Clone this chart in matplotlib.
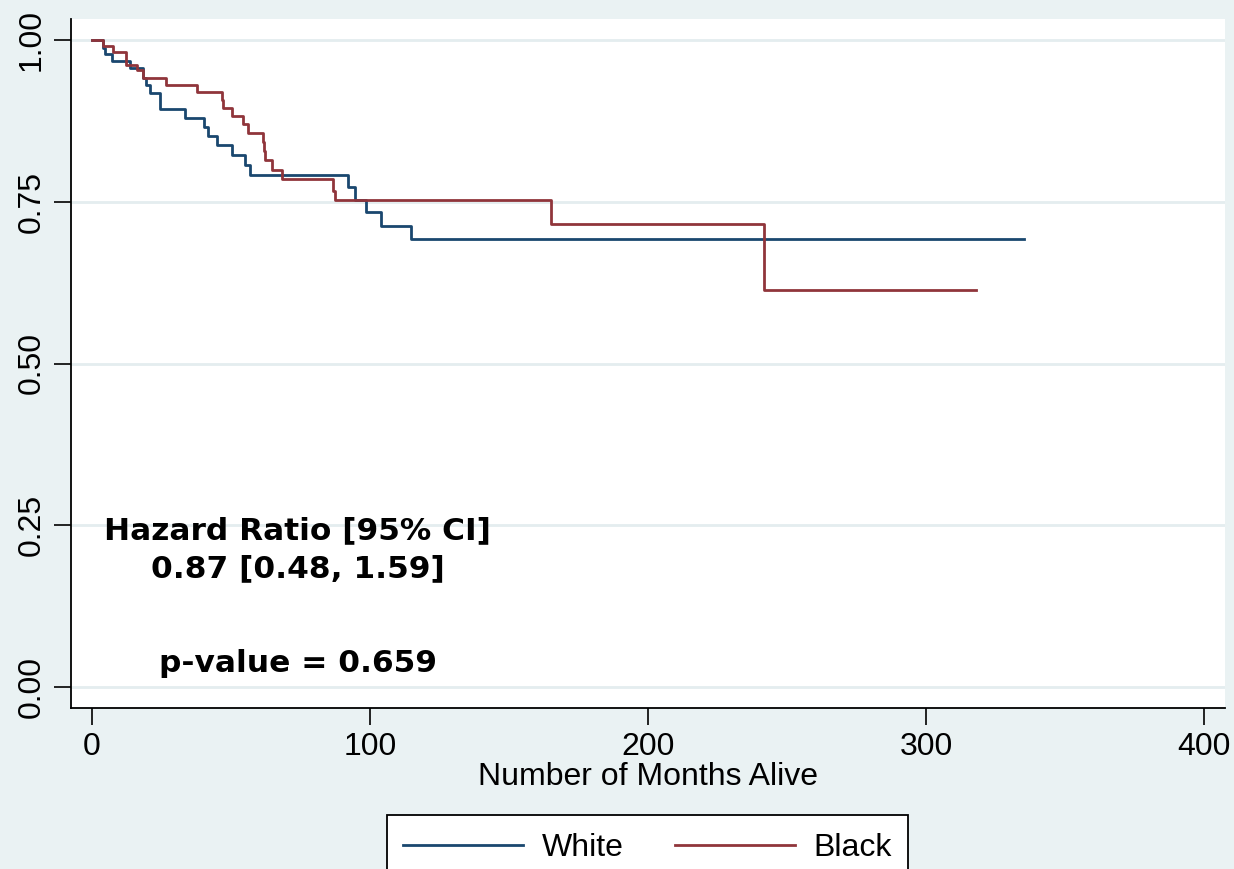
import matplotlib
matplotlib.use("Agg")
import matplotlib.pyplot as plt
from matplotlib.lines import Line2D
from matplotlib.patches import Rectangle

# Kaplan-Meier step data (months, survival probability)
white_time = [0, 4.1, 4.7, 7.1, 13.7, 18.4, 19.6, 20.8, 24.4, 33.4, 40.4, 41.8, 44.8,
              50.2, 55.2, 56.8, 92.1, 94.5, 98.7, 104.1, 114.9, 335.3]
white_surv = [1.0, 0.987, 0.978, 0.967, 0.956, 0.941, 0.931, 0.918, 0.893, 0.879, 0.866,
              0.851, 0.838, 0.823, 0.807, 0.792, 0.773, 0.753, 0.734, 0.713, 0.692, 0.692]

black_time = [0, 4.1, 7.7, 12.1, 16.3, 18.4, 26.6, 37.6, 46.6, 47.0, 50.5, 54.4, 56.2,
              61.6, 62.0, 62.4, 64.6, 68.5, 86.7, 87.3, 165.0, 241.8, 318.0]
black_surv = [1.0, 0.991, 0.982, 0.962, 0.954, 0.942, 0.931, 0.919, 0.907, 0.895, 0.883,
              0.870, 0.857, 0.843, 0.828, 0.815, 0.799, 0.785, 0.767, 0.752, 0.716, 0.613, 0.613]

series_labels = ["White", "Black"]
x_ticks = [0, 100, 200, 300, 400]
y_ticks = [0.0, 0.25, 0.5, 0.75, 1.0]
y_ticklabels = ["0.00", "0.25", "0.50", "0.75", "1.00"]
annot_lines = ["Hazard Ratio [95% CI]", "0.87 [0.48, 1.59]", "p-value = 0.659"]

BG = "#EAF2F3"
NAVY = "#1A476F"
MAROON = "#90353B"

plt.rcParams['font.family'] = ['Liberation Sans', 'DejaVu Sans']

W, H = 1234, 869
fig = plt.figure(figsize=(W/100, H/100), dpi=100, facecolor=BG)
ax = fig.add_axes([71/W, 1-708/H, (1225-71)/W, (708-19)/H])
ax.set_facecolor("white")

ax.step(white_time, white_surv, where="post", color=NAVY, lw=2)
ax.step(black_time, black_surv, where="post", color=MAROON, lw=2)

ax.set_xlim(-7.55, 407.5)
ax.set_ylim(-0.0325, 1.0325)

ax.set_xticks(x_ticks)
ax.set_yticks(y_ticks)
ax.set_yticklabels(y_ticklabels, rotation=90, va="center")
ax.tick_params(axis="both", labelsize=23, length=12.5, width=1.2, color="black", direction="out")
ax.tick_params(axis="y", pad=5)
ax.tick_params(axis="x", pad=5)
ax.yaxis.grid(True, color="#E4EDEF", lw=2)
ax.set_axisbelow(True)

for s in ["top", "right"]:
    ax.spines[s].set_visible(False)
for s in ["left", "bottom"]:
    ax.spines[s].set_linewidth(1.3)
    ax.spines[s].set_color("black")

ax.set_xlabel("Number of Months Alive", fontsize=23, labelpad=0)

# annotation
xc = 74.0
ax.text(xc, 0.2284, annot_lines[0], ha="center", va="baseline", fontsize=22.5,
        fontweight="bold", family="DejaVu Sans")
ax.text(xc, 0.1698, annot_lines[1], ha="center", va="baseline", fontsize=22.5,
        fontweight="bold", family="DejaVu Sans")
ax.text(xc, 0.0231, annot_lines[2], ha="center", va="baseline", fontsize=22.5,
        fontweight="bold", family="DejaVu Sans")

# legend box (extends past the bottom edge, as in the reference)
box = Rectangle((387/W, -0.05), (908-387)/W, (1-815/H) + 0.05, transform=fig.transFigure,
                facecolor="white", edgecolor="black", lw=1.3, zorder=1)
fig.patches.append(box)
handles = [Line2D([], [], color=NAVY, lw=2), Line2D([], [], color=MAROON, lw=2)]
leg = fig.legend(handles, series_labels, loc="center",
                 bbox_to_anchor=(647.5/W, 1-848/H), ncol=2, fontsize=23,
                 handlelength=3.75, handletextpad=0.6, columnspacing=1.6,
                 borderpad=0.0, borderaxespad=0.0, frameon=False)
leg.set_zorder(2)

fig.savefig("out.png", dpi=100, facecolor=BG)
